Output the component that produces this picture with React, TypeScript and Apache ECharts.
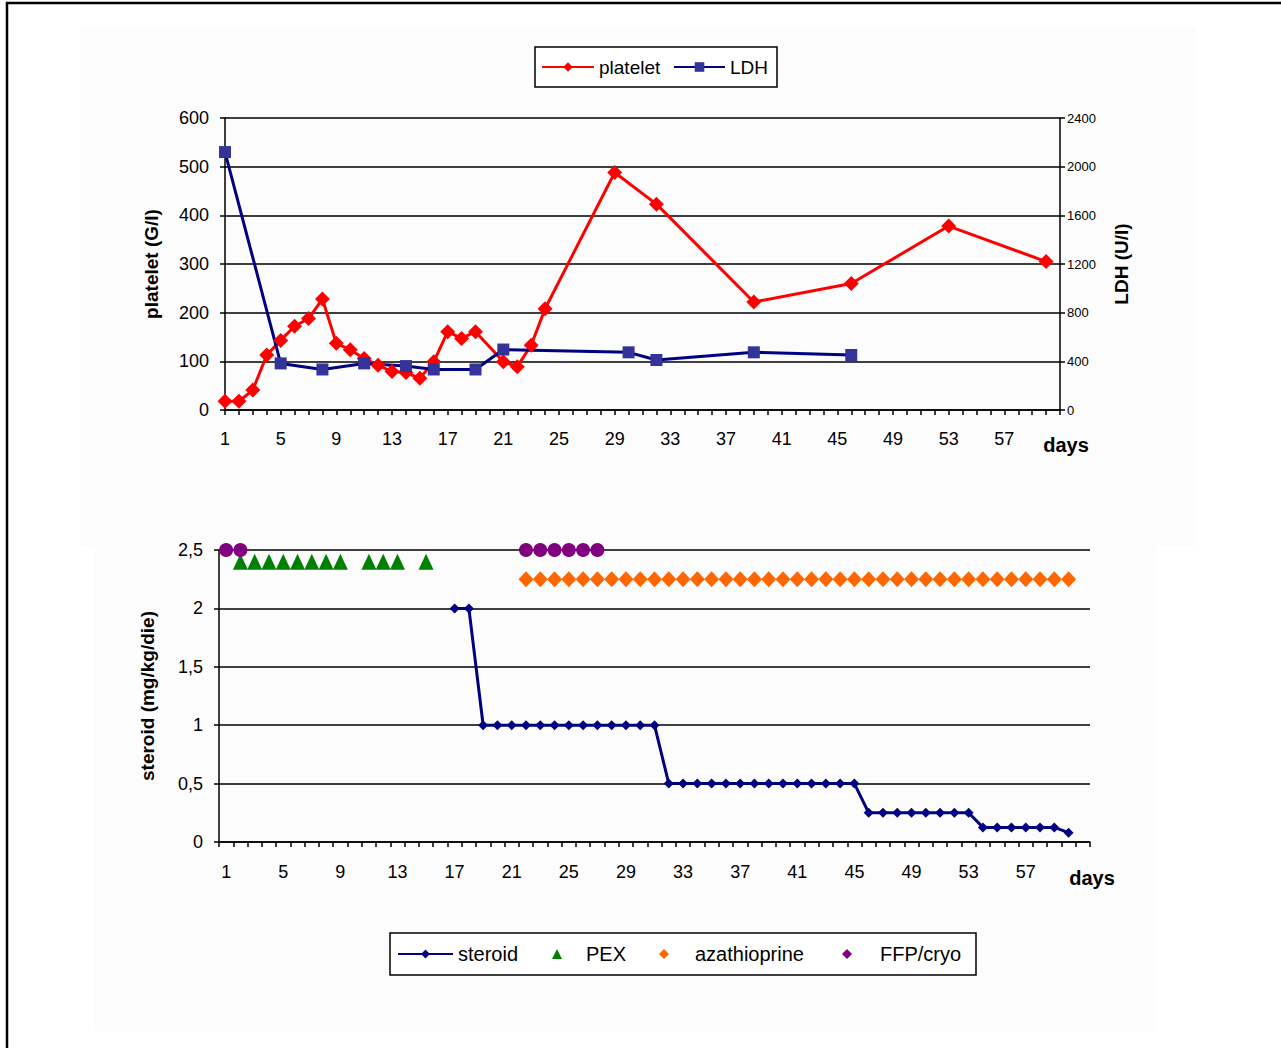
import React, { useEffect, useRef } from "react";
import * as echarts from "echarts";

// ---- data ----
const days: string[] = [
  "1","2","3","4","5","6","7","8","9","10","11","12","13","14","15","16","17","18","19","20",
  "21","22","23","24","25","26","27","28","29","30","31","32","33","34","35","36","37","38","39","40",
  "41","42","43","44","45","46","47","48","49","50","51","52","53","54","55","56","57","58","59","60","61",
];

const plateletDays = [1, 2, 3, 4, 5, 6, 7, 8, 9, 10, 11, 12, 13, 14, 15, 16, 17, 18, 19, 21, 22, 23, 24, 29, 32, 39, 46, 53, 60];
const plateletValues = [18, 18, 41, 113, 143, 172, 188, 228, 137, 124, 106, 92, 79, 77, 65, 99, 161, 147, 161, 99, 89, 133, 208, 488, 423, 222, 260, 378, 305];

const ldhDays = [1, 5, 8, 11, 14, 16, 19, 21, 30, 32, 39, 46];
const ldhValues = [2120, 383, 333, 383, 361, 333, 333, 497, 474, 411, 474, 452];

const steroidDays = [17, 18, 19, 20, 21, 22, 23, 24, 25, 26, 27, 28, 29, 30, 31, 32, 33, 34, 35, 36, 37, 38, 39, 40, 41, 42, 43, 44, 45, 46, 47, 48, 49, 50, 51, 52, 53, 54, 55, 56, 57, 58, 59, 60];
const steroidValues = [2, 2, 1, 1, 1, 1, 1, 1, 1, 1, 1, 1, 1, 1, 1, 0.5, 0.5, 0.5, 0.5, 0.5, 0.5, 0.5, 0.5, 0.5, 0.5, 0.5, 0.5, 0.5, 0.5, 0.25, 0.25, 0.25, 0.25, 0.25, 0.25, 0.25, 0.25, 0.125, 0.125, 0.125, 0.125, 0.125, 0.125, 0.08];

const pexDays = [2, 3, 4, 5, 6, 7, 8, 9, 11, 12, 13, 15];
const pexLevel = 2.4;

const azaDays = [22, 23, 24, 25, 26, 27, 28, 29, 30, 31, 32, 33, 34, 35, 36, 37, 38, 39, 40, 41, 42, 43, 44, 45, 46, 47, 48, 49, 50, 51, 52, 53, 54, 55, 56, 57, 58, 59, 60];
const azaLevel = 2.25;

const ffpDays = [1, 2, 22, 23, 24, 25, 26, 27];
const ffpLevel = 2.5;

const topLeftTicks = { min: 0, max: 600, interval: 100 };
const topRightTicks = { min: 0, max: 2400, interval: 400 };
const bottomTicks = { min: 0, max: 2.5, interval: 0.5 };

const FONT = "'Liberation Sans', Arial, sans-serif";

const pairs = (ds: number[], vs: number[]) => ds.map((d, i) => [String(d), vs[i]]);
const level = (ds: number[], v: number) => ds.map((d) => [String(d), v]);

export default function App() {
  const ref = useRef<HTMLDivElement>(null);
  useEffect(() => {
    if (!ref.current) return;
    const chart = echarts.init(ref.current, undefined, { renderer: "svg" });
    const labelInterval = (i: number) => i % 4 === 0 && i < 60;
    const axisLine = { show: true, lineStyle: { color: "#000", width: 1.5 } };
    const tick = { show: true, length: 5, lineStyle: { color: "#000", width: 1.5 } };
    const split = { show: true, lineStyle: { color: "#000", width: 1.5 } };
    const lblStyle = { color: "#000", fontSize: 18, fontFamily: FONT };
    const nameStyle = { color: "#000", fontSize: 19, fontWeight: "bold" as const, fontFamily: FONT };
    const legendBase = {
      orient: "horizontal",
      padding: 0,
      itemGap: 0,
      selectedMode: false,
      symbolKeepAspect: true,
      textStyle: { color: "#000", fontSize: 19, fontFamily: FONT, lineHeight: 20 },
    };
    const bottomText = (padLeft: number) => ({ ...legendBase.textStyle, fontSize: 20, padding: [0, 0, 0, padLeft] });

    chart.setOption({
      animation: false,
      backgroundColor: "#fff",
      grid: [
        { left: 225, top: 118, width: 835, height: 292 },
        { left: 219, top: 550, width: 871, height: 292 },
      ],
      xAxis: [
        {
          type: "category",
          gridIndex: 0,
          data: days,
          boundaryGap: false,
          axisLine,
          axisTick: { ...tick, interval: 0 },
          axisLabel: { ...lblStyle, interval: labelInterval, margin: 20 },
          splitLine: { show: false },
        },
        {
          type: "category",
          gridIndex: 1,
          data: days,
          boundaryGap: true,
          axisLine,
          axisTick: { ...tick, interval: 0 },
          axisLabel: { ...lblStyle, interval: labelInterval, margin: 21 },
          splitLine: { show: false },
        },
      ],
      yAxis: [
        {
          type: "value",
          gridIndex: 0,
          position: "left",
          ...topLeftTicks,
          name: "platelet (G/l)",
          nameLocation: "middle",
          nameGap: 64,
          nameRotate: 90,
          nameTextStyle: nameStyle,
          axisLine,
          axisTick: tick,
          axisLabel: { ...lblStyle, margin: 16 },
          splitLine: split,
        },
        {
          type: "value",
          gridIndex: 0,
          position: "right",
          ...topRightTicks,
          name: "LDH (U/l)",
          nameLocation: "middle",
          nameGap: 52,
          nameRotate: 90,
          nameTextStyle: nameStyle,
          axisLine,
          axisTick: tick,
          axisLabel: { color: "#000", fontSize: 13, fontFamily: FONT, margin: 7, formatter: (v: number) => String(v) },
          splitLine: { show: false },
        },
        {
          type: "value",
          gridIndex: 1,
          position: "left",
          ...bottomTicks,
          name: "steroid (mg/kg/die)",
          nameLocation: "middle",
          nameGap: 62,
          nameRotate: 90,
          nameTextStyle: nameStyle,
          axisLine,
          axisTick: tick,
          axisLabel: {
            ...lblStyle,
            margin: 16,
            formatter: (v: number) => String(v).replace(".", ","),
          },
          splitLine: split,
        },
      ],
      legend: [
        { ...legendBase, left: 541, top: 57, itemWidth: 52, itemHeight: 12, data: ["platelet"], lineStyle: { width: 2 } },
        { ...legendBase, left: 673, top: 57, itemWidth: 51, itemHeight: 12, data: ["LDH"], lineStyle: { width: 2 } },
        { ...legendBase, left: 397, top: 944, itemWidth: 55, itemHeight: 11, data: ["steroid"], lineStyle: { width: 2 }, textStyle: bottomText(0) },
        { ...legendBase, left: 552, top: 944, itemWidth: 10, itemHeight: 10, data: ["PEX"], textStyle: bottomText(19) },
        { ...legendBase, left: 659, top: 944, itemWidth: 10, itemHeight: 10, data: ["azathioprine"], textStyle: bottomText(21) },
        { ...legendBase, left: 842, top: 944, itemWidth: 10, itemHeight: 10, data: [{ name: "FFP/cryo", icon: "diamond" }], textStyle: bottomText(23) },
      ],
      graphic: [
        { type: "rect", z: -20, shape: { x: 7, y: 3, width: 1300, height: 1100 }, style: { fill: "#fff", stroke: "#000", lineWidth: 2.5 } },
        { type: "rect", z: -15, shape: { x: 80, y: 27, width: 1116, height: 519 }, style: { fill: "#fcfcfc" } },
        { type: "rect", z: -15, shape: { x: 95, y: 546, width: 1061, height: 485 }, style: { fill: "#fcfcfc" } },
        { type: "rect", z: -5, shape: { x: 535, y: 47, width: 242, height: 40 }, style: { fill: "#fff", stroke: "#000", lineWidth: 1.5 } },
        { type: "rect", z: -5, shape: { x: 390, y: 933, width: 586, height: 42 }, style: { fill: "#fff", stroke: "#000", lineWidth: 1.5 } },
        { type: "text", x: 1066, y: 445, style: { text: "days", fill: "#000", font: `bold 20px ${FONT}`, align: "center", verticalAlign: "middle" } },
        { type: "text", x: 1092, y: 878, style: { text: "days", fill: "#000", font: `bold 20px ${FONT}`, align: "center", verticalAlign: "middle" } },
      ],
      series: [
        {
          name: "platelet",
          type: "line",
          xAxisIndex: 0,
          yAxisIndex: 0,
          data: pairs(plateletDays, plateletValues),
          color: "#ff0000",
          lineStyle: { color: "#ff0000", width: 3 },
          itemStyle: { color: "#ff0000" },
          symbol: "diamond",
          symbolSize: 15,
          showAllSymbol: true,
        },
        {
          name: "LDH",
          type: "line",
          xAxisIndex: 0,
          yAxisIndex: 1,
          data: pairs(ldhDays, ldhValues),
          color: "#000080",
          lineStyle: { color: "#000080", width: 3 },
          itemStyle: { color: "#333399" },
          symbol: "rect",
          symbolSize: 12,
          showAllSymbol: true,
        },
        {
          name: "steroid",
          type: "line",
          xAxisIndex: 1,
          yAxisIndex: 2,
          data: pairs(steroidDays, steroidValues),
          color: "#000080",
          lineStyle: { color: "#000080", width: 3 },
          itemStyle: { color: "#000080" },
          symbol: "diamond",
          symbolSize: 10,
          showAllSymbol: true,
        },
        {
          name: "PEX",
          type: "scatter",
          xAxisIndex: 1,
          yAxisIndex: 2,
          data: level(pexDays, pexLevel),
          color: "#008000",
          itemStyle: { color: "#008000", opacity: 1 },
          symbol: "triangle",
          symbolSize: [15, 16],
        },
        {
          name: "azathioprine",
          type: "scatter",
          xAxisIndex: 1,
          yAxisIndex: 2,
          data: level(azaDays, azaLevel),
          color: "#ff6600",
          itemStyle: { color: "#ff6600", opacity: 1 },
          symbol: "diamond",
          symbolSize: [15, 16],
        },
        {
          name: "FFP/cryo",
          type: "scatter",
          xAxisIndex: 1,
          yAxisIndex: 2,
          data: level(ffpDays, ffpLevel),
          color: "#800080",
          itemStyle: { color: "#800080", opacity: 1 },
          symbol: "circle",
          symbolSize: 14,
        },
      ],
    });
    return () => chart.dispose();
  }, []);
  return (
    <div
      ref={ref}
      style={{ position: "fixed", left: 0, top: 0, width: 1281, height: 1048, background: "#fff" }}
    />
  );
}
